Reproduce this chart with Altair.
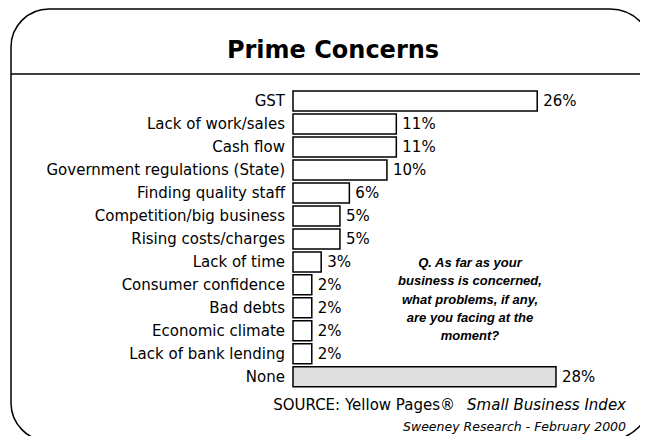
import altair as alt
import pandas as pd

categories = ["GST", "Lack of work/sales", "Cash flow", "Government regulations (State)",
              "Finding quality staff", "Competition/big business", "Rising costs/charges",
              "Lack of time", "Consumer confidence", "Bad debts", "Economic climate",
              "Lack of bank lending", "None"]
values = [26, 11, 11, 10, 6, 5, 5, 3, 2, 2, 2, 2, 28]
is_none = [False] * 12 + [True]

title_text = "Prime Concerns"
question_lines = ["Q. As far as your", "business is concerned,", "what problems, if any,",
                  "are you facing at the", "moment?"]
source_regular = "SOURCE: Yellow Pages®"
source_italic = "Small Business Index"
credit = "Sweeney Research - February 2000"

df = pd.DataFrame({"cat": categories, "val": values, "none": is_none,
                   "lbl": [f"{v}%" for v in values]})

FONT = "DejaVu Sans"
W, H = 632, 428

xs = alt.Scale(domain=[0, 28], range=[285, 548])
ys = alt.Scale(domain=categories, range=[83, 378.8], paddingInner=0.13, paddingOuter=0)

base = alt.Chart(df)

bars = base.mark_bar(stroke="black", strokeWidth=1.5).encode(
    x=alt.X("val:Q", scale=xs, axis=None),
    x2=alt.datum(0),
    y=alt.Y("cat:N", scale=ys, axis=None, sort=categories),
    fill=alt.Fill("none:N", scale=alt.Scale(domain=[False, True], range=["white", "#dedede"]), legend=None),
)

cat_labels = base.mark_text(align="right", baseline="middle", font=FONT, fontSize=15, color="black").encode(
    x=alt.value(277),
    y=alt.Y("cat:N", scale=ys, axis=None, sort=categories),
    text="cat:N",
)

val_labels = base.mark_text(align="left", baseline="middle", dx=6, font=FONT, fontSize=15, color="black").encode(
    x=alt.X("val:Q", scale=xs, axis=None),
    y=alt.Y("cat:N", scale=ys, axis=None, sort=categories),
    text="lbl:N",
)

one = alt.Chart(pd.DataFrame({"a": [0]}))

frame = one.mark_rect(filled=False, stroke="black", strokeWidth=1.5, clip=True,
                      cornerRadiusTopLeft=38, cornerRadiusBottomLeft=38,
                      cornerRadiusTopRight=43, cornerRadiusBottomRight=48).encode(
    x=alt.value(3), x2=alt.value(645), y=alt.value(1), y2=alt.value(433))

hline = one.mark_rule(stroke="black", strokeWidth=1.5, clip=True).encode(
    x=alt.value(3), x2=alt.value(645), y=alt.value(66))

title = one.mark_text(font=FONT, fontSize=24, fontWeight="bold", align="center", baseline="alphabetic",
                      color="black").encode(
    x=alt.value(325), y=alt.value(50), text=alt.value(title_text))

question = one.mark_text(font="Liberation Sans", fontSize=13, fontWeight="bold", fontStyle="italic",
                         align="center", baseline="middle", lineHeight=18.3, color="black").encode(
    x=alt.value(462), y=alt.value(255), text=alt.value(question_lines))

src1 = one.mark_text(font=FONT, fontSize=15, align="right", baseline="middle", color="black").encode(
    x=alt.value(447), y=alt.value(397), text=alt.value(source_regular))
src2 = one.mark_text(font=FONT, fontSize=15, fontStyle="italic", align="right", baseline="middle",
                     color="black").encode(
    x=alt.value(618), y=alt.value(397), text=alt.value(source_italic))
src3 = one.mark_text(font=FONT, fontSize=12.5, fontStyle="italic", align="right", baseline="middle",
                     color="black").encode(
    x=alt.value(618), y=alt.value(419), text=alt.value(credit))

chart = alt.layer(frame, hline, title, bars, cat_labels, val_labels, question, src1, src2, src3).properties(
    width=W, height=H, autosize=alt.AutoSizeParams(type="none"), padding=0
).configure_view(stroke=None)

chart.save("out.html", embed_options={"renderer": "svg", "actions": False})
